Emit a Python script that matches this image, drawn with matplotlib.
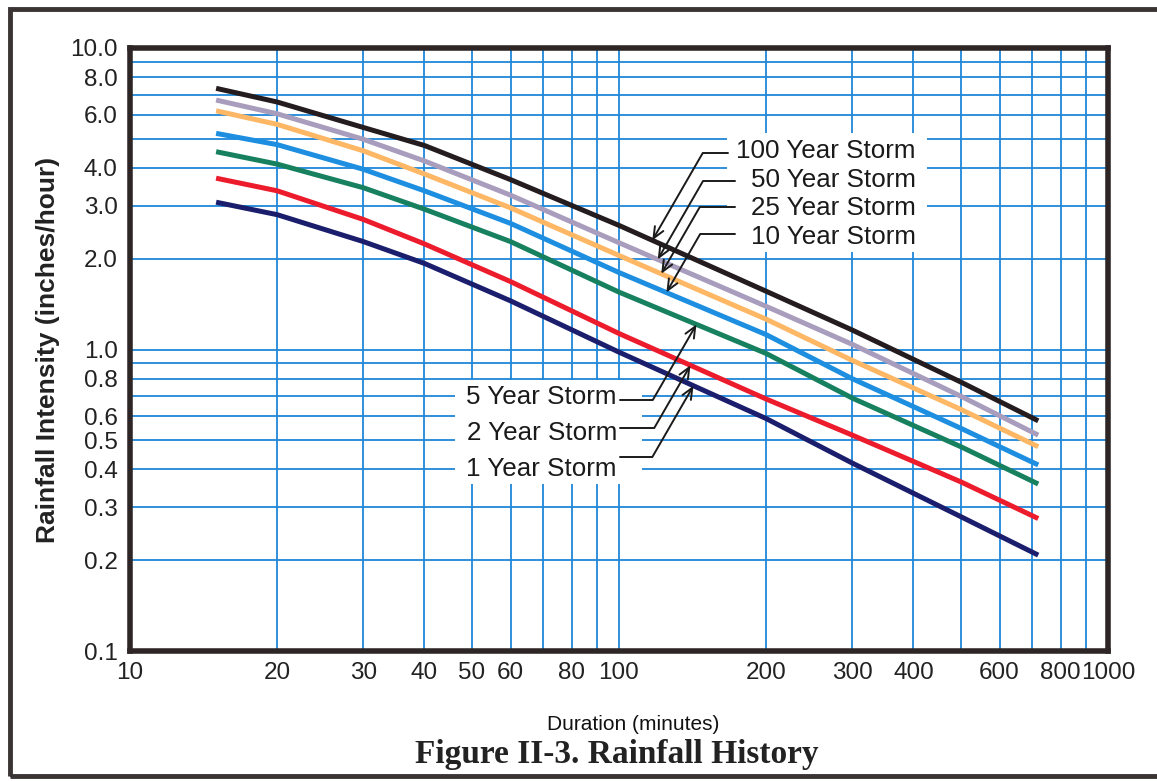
import numpy as np
import matplotlib
matplotlib.use('Agg')
import matplotlib.pyplot as plt
from matplotlib.patches import Rectangle
from matplotlib.ticker import FixedLocator, NullLocator

# durations in minutes, intensities in inches/hour
durations = [15, 20, 30, 40, 60, 100, 200, 300, 500, 720]
yr100 = [7.35, 6.62, 5.45, 4.75, 3.66, 2.58, 1.56, 1.16, 0.78, 0.58]
yr50 = [6.72, 6.05, 4.98, 4.22, 3.25, 2.26, 1.39, 1.04, 0.70, 0.52]
yr25 = [6.19, 5.58, 4.56, 3.82, 2.95, 2.05, 1.26, 0.92, 0.633, 0.476]
yr10 = [5.21, 4.78, 3.96, 3.36, 2.62, 1.80, 1.12, 0.80, 0.548, 0.414]
yr5 = [4.53, 4.12, 3.44, 2.92, 2.28, 1.55, 0.97, 0.69, 0.476, 0.358]
yr2 = [3.70, 3.36, 2.70, 2.24, 1.68, 1.13, 0.685, 0.52, 0.364, 0.275]
yr1 = [3.08, 2.80, 2.28, 1.93, 1.45, 0.98, 0.59, 0.42, 0.279, 0.208]

storm_labels = ['100 Year Storm', '50 Year Storm', '25 Year Storm', '10 Year Storm',
                '5 Year Storm', '2 Year Storm', '1 Year Storm']
# duration where each leader arrow touches its curve
arrow_durations = [117, 120, 122, 125, 144, 140, 142]

x_ticks = [10, 20, 30, 40, 50, 60, 70, 80, 90, 100, 200, 300, 400, 500, 600, 700, 800, 900, 1000]
x_labels = ['10', '20', '30', '40', '50', '60', '', '80', '', '100', '200', '300', '400', '',
            '600', '', '800', '', '1000']
y_ticks = [0.1, 0.2, 0.3, 0.4, 0.5, 0.6, 0.7, 0.8, 0.9, 1, 2, 3, 4, 5, 6, 7, 8, 9, 10]
y_labels = ['0.1', '0.2', '0.3', '0.4', '0.5', '0.6', '', '0.8', '', '1.0', '2.0', '3.0', '4.0', '',
            '6.0', '', '8.0', '', '10.0']

series = [yr100, yr50, yr25, yr10, yr5, yr2, yr1]
colors = ['#241c1e', '#a99dbd', '#fdb765', '#1d8ee0', '#17805e', '#ec1c2d', '#1b1e6c']

W, H = 1157, 781
plt.rcParams['font.family'] = ['Liberation Sans', 'DejaVu Sans']

fig = plt.figure(figsize=(W / 100, H / 100), dpi=100)
ax_left, ax_right, ax_top, ax_bot = 130, 1108, 48, 651
ax = fig.add_axes([ax_left / W, 1 - ax_bot / H, (ax_right - ax_left) / W, (ax_bot - ax_top) / H])


def px_to_axes(px, py):
    return (px - ax_left) / (ax_right - ax_left), (ax_bot - py) / (ax_bot - ax_top)


ax.set_xscale('log')
ax.set_yscale('log')
ax.set_xlim(10, 1000)
ax.set_ylim(0.1, 10)

for vals, col in zip(series, colors):
    ax.plot(durations, vals, color=col, lw=3.6, solid_capstyle='butt', zorder=3)

ax.xaxis.set_major_locator(FixedLocator(x_ticks))
ax.yaxis.set_major_locator(FixedLocator(y_ticks))
ax.xaxis.set_minor_locator(NullLocator())
ax.yaxis.set_minor_locator(NullLocator())
ax.set_xticklabels(x_labels)
ax.set_yticklabels(y_labels)
ax.tick_params(length=0, labelsize=17.5, colors='#222222')
ax.tick_params(axis='y', pad=9)
ax.tick_params(axis='x', pad=8)
ax.set_axisbelow(True)
ax.grid(True, color='#1f86d8', lw=1.3)

for sp in ax.spines.values():
    sp.set_linewidth(4)
    sp.set_color('#2e2626')

ax.set_xlabel('Duration (minutes)', fontsize=15, color='#111111')
ax.xaxis.set_label_coords(0.515, -0.106)
ax.set_ylabel('Rainfall Intensity (inches/hour)', fontsize=19, fontweight='bold', color='#222222')
ax.yaxis.set_label_coords(-0.0716, 0.5)

# white boxes behind the storm labels
for (x0, y0, x1, y1) in [(727, 133, 927, 252), (455, 380, 642, 484)]:
    ax0, ay0 = px_to_axes(x0, y1)
    ax1, ay1 = px_to_axes(x1, y0)
    ax.add_patch(Rectangle((ax0, ay0), ax1 - ax0, ay1 - ay0, transform=ax.transAxes,
                           facecolor='white', edgecolor='none', zorder=1))

label_px = [(916, 151), (916, 180), (916, 208), (916, 237),
            (617, 397), (617, 433), (617, 469)]
start_px = [(728, 153), (735, 181), (735, 207), (735, 234),
            (620, 400), (620, 428), (620, 457)]

for i, lab in enumerate(storm_labels):
    tx, ty = px_to_axes(*label_px[i])
    ax.text(tx, ty, lab, transform=ax.transAxes, ha='right', va='center',
            fontsize=18.7, color='#1a1a1a', zorder=4)
    d = arrow_durations[i]
    v = 10 ** np.interp(np.log10(d), np.log10(durations), np.log10(series[i]))
    sx, sy = px_to_axes(*start_px[i])
    ax.annotate('', xy=(d, v), xycoords='data', xytext=(sx, sy), textcoords='axes fraction',
                arrowprops=dict(arrowstyle='->,head_length=0.8,head_width=0.35', color='#1a1a1a',
                                lw=1.4, shrinkA=0, shrinkB=0,
                                connectionstyle='angle,angleA=0,angleB=60,rad=0'),
                zorder=5)

fig.text(617 / W, 1 - 755 / H, 'Figure II-3. Rainfall History', ha='center', va='center',
         fontsize=24, fontweight='bold', family=['Liberation Serif', 'DejaVu Serif'], color='#222222')

# outer frame of the figure
fig.add_artist(Rectangle((10 / W, 1 - 776 / H), 1.05, (776 - 9) / H, transform=fig.transFigure,
                         fill=False, lw=3.5, edgecolor='#3a3434', clip_on=False))

fig.savefig('out.png', dpi=100)
